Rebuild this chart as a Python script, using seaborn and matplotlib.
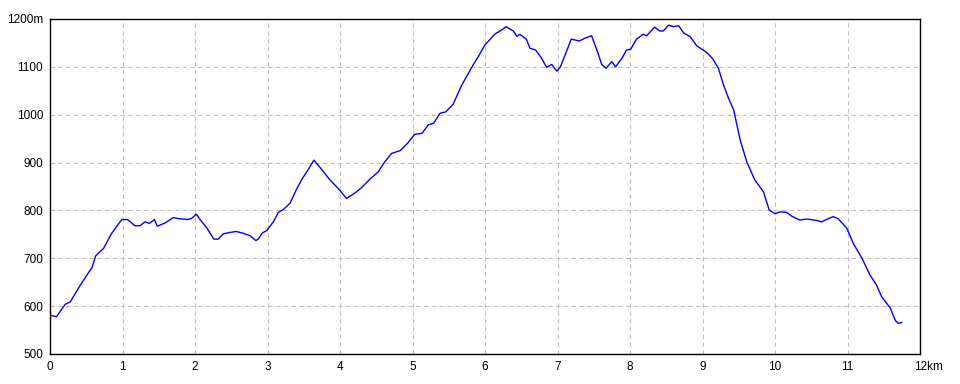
import matplotlib
matplotlib.use("Agg")
import matplotlib.pyplot as plt
import matplotlib.transforms as mtransforms
import seaborn as sns
import pandas as pd

distance_km = [
    0.00, 0.09, 0.21, 0.28, 0.41, 0.58, 0.63, 0.74, 0.85, 0.99, 1.07, 1.17, 1.24,
    1.31, 1.37, 1.44, 1.48, 1.59, 1.70, 1.77, 1.89, 1.95, 2.02, 2.07, 2.16, 2.26,
    2.32, 2.39, 2.48, 2.57, 2.67, 2.76, 2.84, 2.87, 2.93, 2.99, 3.08, 3.15, 3.22,
    3.31, 3.40, 3.47, 3.56, 3.64, 3.75, 3.86, 3.98, 4.09, 4.21, 4.30, 4.41, 4.53,
    4.60, 4.71, 4.83, 4.93, 5.03, 5.13, 5.22, 5.29, 5.38, 5.46, 5.56, 5.68, 5.82,
    5.91, 6.00, 6.14, 6.23, 6.29, 6.39, 6.44, 6.48, 6.57, 6.62, 6.70, 6.78, 6.85,
    6.92, 6.99, 7.04, 7.13, 7.19, 7.30, 7.38, 7.47, 7.56, 7.61, 7.67, 7.75, 7.80,
    7.89, 7.95, 8.01, 8.09, 8.18, 8.23, 8.34, 8.41, 8.46, 8.53, 8.60, 8.67, 8.74,
    8.83, 8.92, 9.06, 9.14, 9.22, 9.29, 9.36, 9.43, 9.52, 9.61, 9.72, 9.84, 9.92,
    10.00, 10.07, 10.16, 10.23, 10.34, 10.44, 10.58, 10.64, 10.71, 10.80, 10.87,
    10.99, 11.08, 11.20, 11.31, 11.40, 11.47, 11.59, 11.66, 11.70, 11.75,
]
elevation_m = [
    581, 578, 604, 609, 642, 681, 705, 721, 752, 781, 781, 768, 768,
    776, 773, 781, 767, 774, 785, 783, 781, 783, 792, 781, 764, 740,
    740, 751, 754, 756, 752, 747, 737, 740, 753, 758, 776, 796, 802,
    815, 844, 864, 885, 905, 885, 864, 845, 825, 837, 848, 865, 881,
    898, 919, 925, 940, 959, 961, 979, 982, 1003, 1006, 1022, 1062, 1100,
    1122, 1146, 1169, 1177, 1184, 1175, 1164, 1168, 1158, 1139, 1135, 1118, 1099,
    1105, 1091, 1100, 1135, 1158, 1154, 1160, 1165, 1128, 1105, 1097, 1111, 1100,
    1118, 1135, 1137, 1158, 1168, 1165, 1183, 1175, 1175, 1187, 1184, 1186, 1171,
    1163, 1144, 1130, 1117, 1097, 1062, 1034, 1010, 947, 902, 864, 839, 801,
    793, 797, 796, 788, 780, 782, 779, 776, 781, 787, 783,
    763, 731, 700, 665, 644, 620, 596, 570, 564, 566,
]

x_ticks = list(range(0, 13))
x_tick_labels = [str(v) for v in range(0, 12)] + ["12km"]
y_ticks = [500, 600, 700, 800, 900, 1000, 1100, 1200]
y_tick_labels = ["500", "600", "700", "800", "900", "1000", "1100", "1200m"]

df = pd.DataFrame({"distance": distance_km, "elevation": elevation_m})

sns.set_style("white")
plt.rcParams["font.family"] = ["Liberation Sans", "DejaVu Sans"]

fig = plt.figure(figsize=(9.6, 3.84), dpi=100)
ax = fig.add_axes([50 / 960, 30 / 384, 870 / 960, 335 / 384])

sns.lineplot(data=df, x="distance", y="elevation", ax=ax, color="#0000ff",
             linewidth=1.0, estimator=None, sort=False)

ax.set_xlim(0, 12)
ax.set_ylim(500, 1200)
ax.set_xticks(x_ticks)
ax.set_xticklabels(x_tick_labels)
ax.set_yticks(y_ticks)
ax.set_yticklabels(y_tick_labels)
ax.set_xlabel("")
ax.set_ylabel("")
ax.tick_params(axis="both", length=0, labelsize=8.5, colors="black", pad=5)

ax.grid(True, color="#c0c0c0", linestyle=(0, (4, 3)), linewidth=0.8)
for s in ax.spines.values():
    s.set_color("black")
    s.set_linewidth(1.0)
    s.set_visible(True)

# shift "12km" so that "12" sits centered on the tick
lbl = ax.get_xticklabels()[-1]
lbl.set_horizontalalignment("left")
lbl.set_transform(lbl.get_transform() + mtransforms.ScaledTranslation(-6 / 100, 0, fig.dpi_scale_trans))

fig.savefig("out.png", dpi=100, facecolor="white")
